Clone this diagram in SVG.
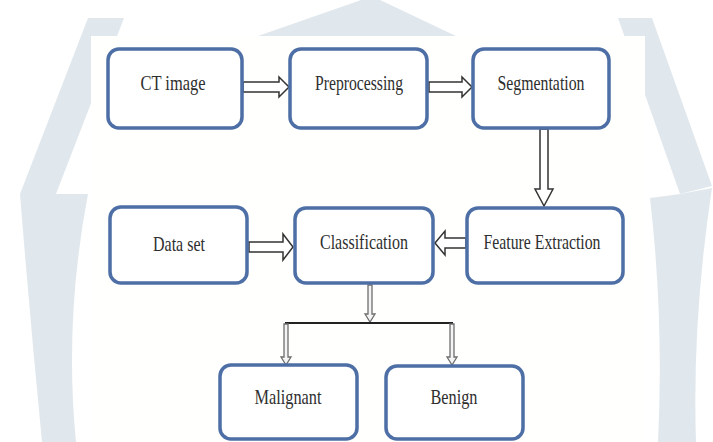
<svg xmlns="http://www.w3.org/2000/svg" width="713" height="442" viewBox="0 0 713 442">
<style>
.wm{fill:#e1e8ed;stroke:none}
.box{fill:#ffffff;stroke:#4d6fa6;stroke-width:3.5}
.lbl{font-family:"Liberation Serif","Times New Roman",serif;font-size:21px;fill:#2e2e2e;text-anchor:middle}
.blk{fill:#ffffff;stroke:#333333;stroke-width:1.5;stroke-linejoin:miter}
.thin{fill:#f4f4f4;stroke:#6e6e6e;stroke-width:1.3}
.bar{fill:none;stroke:#222222;stroke-width:2}
</style>
<rect x="0" y="0" width="713" height="442" fill="#ffffff"/>
<g id="watermark">
<polygon class="wm" points="258,36 364,-1 378,-1 456,36"/>
<polygon class="wm" points="88,18 124,18 56,194 20,194"/>
<path class="wm" d="M20,194 L88,194 Q64,320 76,442 L42,442 Q30,320 20,194 Z"/>
<polygon class="wm" points="618,18 652,18 712,186 680,194"/>
<path class="wm" d="M680,194 L712,188 Q692,320 696,442 L658,442 Q664,320 650,198 Z"/>
</g>
<rect id="panel" x="91" y="36" width="554" height="406" fill="#fffffd"/>
<g id="connectors">
<path class="blk" d="M243,82 L279,82 L279,77 L289,87 L279,97 L279,92 L243,92 Z"/>
<path class="blk" d="M429,82 L462,82 L462,77 L472,87 L462,97 L462,92 L429,92 Z"/>
<path class="blk" d="M540,129 L540,189 L535,189 L544,206 L553,189 L548,189 L548,129 Z"/>
<path class="blk" d="M249,242 L283,242 L283,234 L293,247 L283,260 L283,252 L249,252 Z"/>
<path class="blk" d="M466,238 L445,238 L445,231 L435,243 L445,255 L445,248 L466,248 Z"/>
<path class="thin" d="M368,285 L368,314 L365,314 L370,322 L375,314 L372,314 L372,285 Z"/>
<path class="bar" d="M285,323 L453,323"/>
<path class="thin" d="M284,324 L284,357 L281,357 L286,365 L291,357 L288,357 L288,324 Z"/>
<path class="thin" d="M450,324 L450,357 L447,357 L452,365 L457,357 L454,357 L454,324 Z"/>
</g>
<g id="ct_image">
<rect class="box" x="108" y="49" width="134" height="79" rx="11"/>
<text class="lbl" x="173" y="90" textLength="65" lengthAdjust="spacingAndGlyphs">CT image</text>
</g>
<g id="preprocessing">
<rect class="box" x="290" y="49" width="137" height="79" rx="11"/>
<text class="lbl" x="359" y="90" textLength="88" lengthAdjust="spacingAndGlyphs">Preprocessing</text>
</g>
<g id="segmentation">
<rect class="box" x="473" y="49" width="136" height="79" rx="11"/>
<text class="lbl" x="541" y="90" textLength="87" lengthAdjust="spacingAndGlyphs">Segmentation</text>
</g>
<g id="data_set">
<rect class="box" x="110" y="207" width="137" height="76" rx="11"/>
<text class="lbl" x="179" y="251" textLength="52" lengthAdjust="spacingAndGlyphs">Data set</text>
</g>
<g id="classification">
<rect class="box" x="295" y="208" width="138" height="75" rx="11"/>
<text class="lbl" x="364" y="249" textLength="88" lengthAdjust="spacingAndGlyphs">Classification</text>
</g>
<g id="feature_extraction">
<rect class="box" x="467" y="208" width="156" height="75" rx="11"/>
<text class="lbl" x="542" y="249" textLength="117" lengthAdjust="spacingAndGlyphs">Feature Extraction</text>
</g>
<g id="malignant">
<rect class="box" x="220" y="365" width="137" height="74" rx="11"/>
<text class="lbl" x="288" y="404" textLength="67" lengthAdjust="spacingAndGlyphs">Malignant</text>
</g>
<g id="benign">
<rect class="box" x="386" y="366" width="137" height="73" rx="11"/>
<text class="lbl" x="454" y="404" textLength="47" lengthAdjust="spacingAndGlyphs">Benign</text>
</g>
</svg>
